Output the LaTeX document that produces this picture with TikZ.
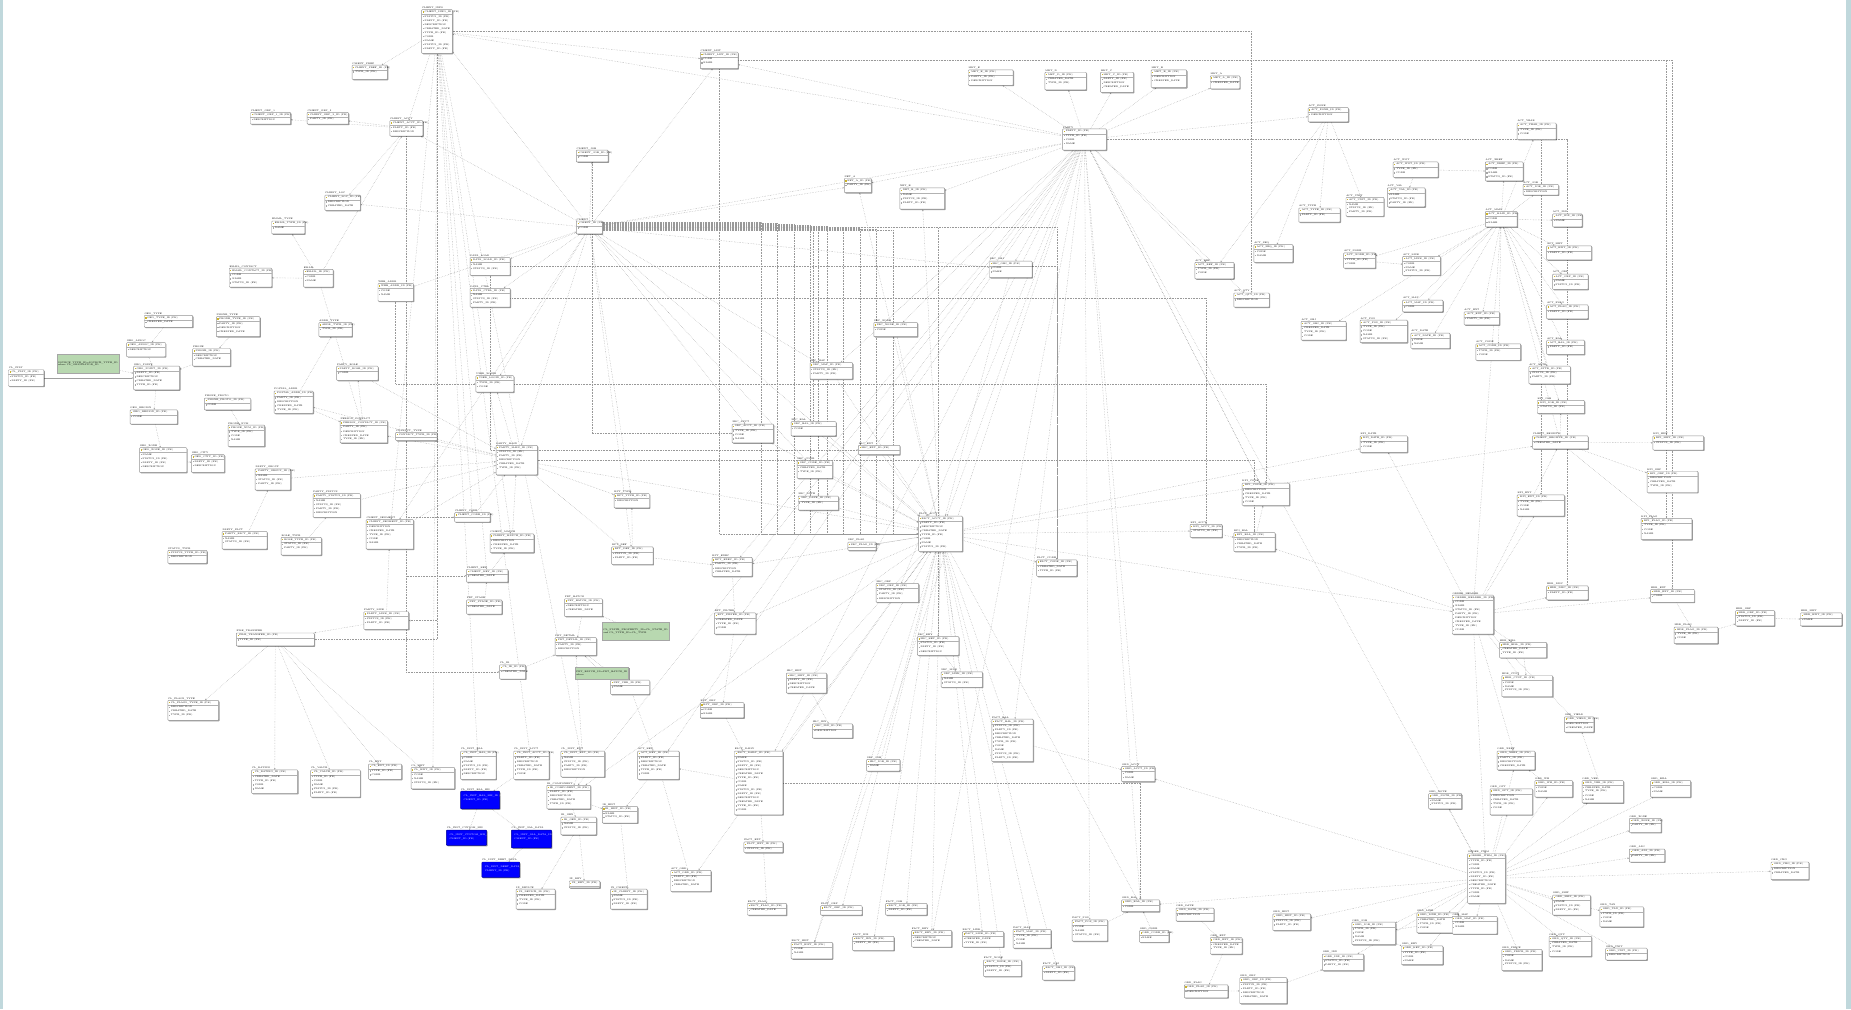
\documentclass[tikz,border=0pt]{standalone}
\usetikzlibrary{shadows,backgrounds,arrows.meta}
\definecolor{strip}{RGB}{192,216,220}
\definecolor{notegreen}{RGB}{184,216,176}
\definecolor{keyyel}{RGB}{205,180,40}
\newcommand\rowfont{\fontsize{1.9}{2.3}\selectfont}
\newcommand\fldname[1]{\ifcase#1 CODE\or NAME\or STATUS\_ID (FK)\or PARTY\_ID (FK)\or DESCRIPTION\or CREATED\_DATE\or TYPE\_ID (FK)\fi}
\tikzset{
  tbl/.style={draw=gray!85, fill=white, line width=0.4pt, rounded corners=0.6pt, anchor=north west, inner sep=0pt,
              drop shadow={shadow xshift=0.8pt, shadow yshift=-0.8pt, opacity=0.4, fill=black}},
  bluetbl/.style={tbl, fill=blue, draw=blue!60!black},
  note/.style={tbl, fill=notegreen, draw=gray!70, rounded corners=0pt, align=left, font=\rowfont, inner sep=1pt},
  hdr/.style={anchor=south west, inner sep=0.3pt, font=\rowfont},
  fld/.style={anchor=west, inner sep=0.2pt, font=\rowfont},
  fk/.style={draw=gray!80, densely dotted, line width=0.35pt, -{Stealth[length=1.4pt,width=1.2pt]}},
  rel/.style={draw=gray!75, line width=0.35pt, -{Stealth[length=1.4pt,width=1.2pt]}},
}
\begin{document}
\begin{tikzpicture}[x=1pt,y=-1pt]
  \useasboundingbox (0,0) rectangle (1568,855);

  % tables
  \foreach \n/\x/\y/\w/\h/\lbl in {
    ci/357/8/26/37/CLIENT\_INFO, cp/298/55/30/12/CLIENT\_PREF, cg/212/95/34/10/CLIENT\_GRP\_1,
    ch/260/95/35/10/CLIENT\_GRP\_2, ca/330/102/28/13/CLIENT\_ACCT, cl/275/165/30/13/CLIENT\_LOC,
    et/230/187/28/11/EMAIL\_TYPE, ec/194/227/36/16/EMAIL\_CONTACT, eml/257/228/25/15/EMAIL,
    gt/122/267/41/10/GEO\_TYPE, pty/183/268/37/17/PHONE\_TYPE, ga/107/290/33/12/GEO\_ASSOC,
    pc/163/295/32/15/PHONE, gp/113/310/39/20/GEO\_POINT, gl/7/313/30/14/CL\_STAT,
    gr/110/347/40/12/GEO\_REGION, gz/118/379/40/21/GEO\_ZONE, gc/162/385/28/15/GEO\_CITY,
    pp/173/337/39/10/PHONE\_PROTO, pn/193/360/31/18/PHONE\_NUM, pa/232/331/33/19/POSTAL\_ADDR,
    ad/270/273/28/12/ADDR\_TYPE, pr/285/310/35/12/PARTY\_ROLE, pe/288/356/40/19/PERSON\_CONTACT,
    wb/320/240/30/15/WEB\_ADDR, ct/335/366/35/7/CONTACT\_TYPE, pg/216/397/30/18/PARTY\_GROUP,
    ps/265/418/40/20/PARTY\_STATUS, pf/188/450/38/15/PARTY\_FACT, rl/238/455/34/15/ROLE\_TYPE,
    st/142/466/33/11/STATUS\_TYPE, dl/398/218/34/15/DATA\_LOAD, dc/398/244/34/16/DATA\_CTRL,
    ul/403/318/32/14/USER\_LOGIN, pm/420/377/35/25/PARTY\_MAIN, cc/385/434/30/8/CLIENT\_CODE,
    cs/310/440/40/25/CLIENT\_SEGMENT, cmt/415/452/37/16/CLIENT\_MATCH, ck/395/482/35/11/CLIENT\_KEY,
    pl/308/518/38/15/PARTY\_LINK, psg/395/508/30/12/PRT\_STAGE, ft/200/536/66/11/FILE\_TRANSFER,
    cf/142/593/43/17/CL\_FLAGS\_TYPE, cr/213/652/39/20/CL\_RATING, cv/263/652/42/23/CL\_VALUE,
    cx/312/647/28/13/CL\_EXT, cy/348/650/37/18/CL\_HIST, ib/390/636/30/24/CL\_INST\_BAL,
    ia/435/636/30/24/CL\_INST\_ACCT, ie/475/636/37/22/CL\_INST\_EXT, ir/423/563/22/12/CL\_IR,
    pb/478/507/32/15/PRT\_BATCH, pd/470/540/35/15/PRT\_DETAIL, pv/517/576/33/12/PRT\_VER,
    ic/463/665/37/20/IR\_COMPONENT, ig/475/692/30/15/IR\_GEN, ih/510/683/30/14/IR\_HIST,
    ix/437/753/33/17/IX\_DEVICE, iy/482/746/26/6/IX\_KEY, iz/517/753/31/17/IX\_CLIENT,
    ak/540/636/35/24/ACT\_KEY, ao/568/737/34/18/ACT\_ORD, rt/520/418/30/12/RPT\_TYPE,
    rd/518/463/35/15/RPT\_DEF, re/603/472/34/16/RPT\_EXEC, rf/605/519/35/18/RPT\_FILTER,
    rg/593/595/37/13/RPT\_GRP, fd/622/636/41/54/FACT\_DAILY, fe/630/713/33/9/FACT\_EXT,
    ff/633/765/33/10/FACT\_FLAG, sa/620/359/35/16/SRC\_ACCT, sb/670/357/38/12/SRC\_BAL,
    sc/675/390/30/15/SRC\_CODE, sd/676/420/34/12/SRC\_DATE, se/727/377/35/8/SRC\_EXT,
    sf/718/459/24/7/SRC\_FLAG, sg/742/494/36/16/SRC\_GRP, sh/666/570/34/17/SRC\_HIST,
    si/688/613/34/12/SRC\_IDX, sj/734/643/28/10/SRC\_JOB, sk/777/539/35/16/SRC\_KEY,
    sl/797/569/35/13/SRC\_LINK, fa/778/437/37/30/FACT\_ACCT, sm/686/307/36/14/SRC\_MAP,
    sn/740/273/37/12/SRC\_NODE, so/838/221/36/14/SRC\_OBJ, fb/840/609/35/36/FACT\_BAL,
    fc/878/474/34/14/FACT\_CODE, fg/695/767/35/8/FACT\_GRP, fh/670/798/35/14/FACT\_HIST,
    fi/722/793/35/12/FACT\_IDX, fj/750/765/35/10/FACT\_JOB, fk/772/788/34/14/FACT\_KEY,
    fl/815/789/35/13/FACT\_LINK, fm/858/787/32/16/FACT\_MAP, fn/833/813/32/14/FACT\_NODE,
    fo/883/818/27/12/FACT\_OBJ, fp/908/779/30/18/FACT\_POS, oa/950/649/28/13/ORD\_ACCT,
    ob/950/762/32/10/ORD\_BAL, oc/965/788/25/10/ORD\_CODE, od/996/769/32/11/ORD\_DATE,
    oe/1025/794/27/14/ORD\_EXT, ofl/1003/834/37/11/ORD\_FLAG, og/1050/828/40/22/ORD\_GRP,
    oh/1078/774/32/14/ORD\_HIST, oi/1120/808/35/14/ORD\_IDX, oj/1145/781/37/19/ORD\_JOB,
    ok/1187/801/35/16/ORD\_KEY, ol/1200/773/35/17/ORD\_LINE, om/1230/776/38/15/ORD\_MAP,
    or/1243/723/32/42/ORDER\_ITEM, on/1210/672/28/13/ORD\_NOTE, oo/1262/668/36/22/ORD\_OPT,
    op/1272/804/34/18/ORD\_PRICE, oq/1312/793/36/17/ORD\_QTY, os/1315/758/32/17/ORD\_SHIP,
    ot/1355/768/37/17/ORD\_TAX, ou/1360/803/35/10/ORD\_UNIT, ov/1340/661/35/19/ORD\_VER,
    ow/1300/661/32/14/ORD\_WH, ox/1268/636/32/16/ORD\_XREF, oy/1325/607/25/13/ORD\_YIELD,
    oz/1380/693/27/12/ORD\_ZONE, pa2/1380/719/30/11/ORD\_ADJ, pb2/1398/661/34/14/ORD\_BILL,
    pc2/1500/730/32/15/ORD\_CHG, oh1/1230/504/35/33/ORDER\_HEADER, hb/1270/544/40/13/HDR\_BILL,
    hc/1272/572/43/18/HDR\_CUST, hd/1310/496/35/12/HDR\_DISC, he/1398/499/37/11/HDR\_EXT,
    hf/1418/531/37/14/HDR\_FLAG, hg/1470/517/33/13/HDR\_GRP, hh/1525/519/35/11/HDR\_HIST,
    ka/1008/444/27/11/KPI\_ACCT, kb/1045/451/35/16/KPI\_BAL, kc/1052/409/40/19/KPI\_CODE,
    kd/1152/369/40/14/KPI\_DATE, ke/1285/419/40/18/KPI\_EXT, kf/1390/439/43/18/KPI\_FLAG,
    kg/1395/399/43/18/KPI\_GRP, kh/1400/369/43/12/KPI\_HIST, ki/1298/369/47/11/CLIENT\_REGISTR,
    kj/1302/339/40/11/KPI\_JOB, aa/1295/310/35/15/ACT\_ATTR, ab/1310/288/32/12/ACT\_BAL,
    ac/1250/291/38/14/ACT\_CODE, ad2/1195/282/33/13/ACT\_DATE, ae/1240/264/30/11/ACT\_EXT,
    af/1310/258/35/12/ACT\_FLAG, ag/1315/232/30/13/ACT\_GRP, ah/1310/208/38/12/ACT\_HIST,
    ai/1315/181/25/11/ACT\_IDX, aj/1290/156/30/9/ACT\_JOB, act/1258/179/27/13/ACT\_MAIN,
    al/1188/217/32/16/ACT\_LINK, am/1188/254/34/10/ACT\_MAP, an/1138/214/27/13/ACT\_NODE,
    ao2/1102/272/38/16/ACT\_OBJ, ap/1152/271/40/19/ACT\_POS, aq/1045/248/30/12/ACT\_QTY,
    ar/1012/222/33/14/ACT\_REF, asq/1062/207/33/15/ACT\_SEQ, atp/1100/176/35/12/ACT\_TYPE,
    au/1140/167/32/16/ACT\_UNIT, av/1175/159/32/16/ACT\_VAL, aw/1180/137/38/13/ACT\_WGT,
    ax/1258/137/32/16/ACT\_XREF, ay/1285/104/33/14/ACT\_YEAR, az/1108/91/34/12/ACT\_ZONE,
    ma/1025/64/25/11/MKT\_A, mb/975/59/30/15/MKT\_B, mc/932/61/28/17/MKT\_C,
    md/885/61/35/15/MKT\_D, me/820/59/38/13/MKT\_E, party/900/109/37/18/PARTY,
    na/715/151/23/12/NET\_A, nb/762/159/38/18/NET\_B, cli/593/44/32/14/CLIENT\_LIST,
    cj/488/127/27/10/CLIENT\_JOB, client/488/187/22/11/CLIENT}{
    \node[tbl, minimum width=\w pt, minimum height=\h pt, label={[hdr]north west:\lbl}] (\n) at (\x,\y) {};
    \fill[keyyel] (\x+1.2,\y+1.6) rectangle ++(0.9,1.2);
    \node[fld] at (\x+2.4,\y+2.2) {\lbl\_ID (PK)};
    \draw[gray!60, line width=0.2pt] (\x,\y+4.3) -- (\x+\w,\y+4.3);
    \pgfmathtruncatemacro\nr{floor((\h-2)/3.4)}
    \ifnum\nr>1
      \foreach \r in {2,...,\nr}{
        \pgfmathtruncatemacro\m{mod(\r+\x,7)}
        \fill[gray!70] (\x+1.2,\y+\r*3.4-1.3) rectangle ++(0.9,1.1);
        \node[fld] at (\x+2.4,\y+\r*3.4-0.8) {\fldname{\m}};
      }
    \fi
  }

  % blue tables
  \foreach \n/\x/\y/\w/\h/\lbl in {bl1/390/670/33/15/CL\_INST\_BAL\_HIS, bl2/378/703/34/13/CL\_INST\_CUSTOM\_HIS,
    bl3/433/703/34/15/CL\_INST\_SAL\_DATA, bl4/408/730/32/13/CL\_INST\_DEBT\_DATA}{
    \node[bluetbl, minimum width=\w pt, minimum height=\h pt, label={[hdr]north west:\lbl}] (\n) at (\x,\y) {};
    \node[fld, text=white] at (\x+2.4,\y+4) {\lbl\_ID (PK)};
    \node[fld, text=white] at (\x+2.4,\y+7.5) {CLIENT\_ID (FK)};
  }

  % notes
  \node[note, minimum width=51pt, minimum height=16pt] (n1) at (48,300) {SOURCE\_TYPE\_ID=SOURCE\_TYPE\_ID\\where CL\_ORIGINATOR\_ID};
  \node[note, minimum width=53pt, minimum height=15pt] (n2) at (510,527) {CL\_STATE\_PROPERTY\_ID=CL\_STATE\_ID\\and CL\_TYPE\_ID=CL\_TYPE};
  \node[note, minimum width=43pt, minimum height=10pt] (n3) at (487,565) {PRT\_BATCH\_ID=PRT\_BATCH\_ID\\where};

  \begin{pgfonlayer}{background}
    \fill[white] (0,0) rectangle (1568,855);
    \fill[strip] (0,0) rectangle (2.5,855);
    \fill[strip] (1564,0) rectangle (1568,855);

    % relations
    \foreach \a/\b in {
      party/me, party/md, party/mc, party/mb, party/ma, party/az, party/na, party/nb, party/cli, party/ci,
      party/client, party/fa, party/kc, party/so, party/sn, party/sm, party/fb, party/fd, party/ak, party/re,
      party/rf, party/sg, party/fk, party/fp, party/oa, party/ob, party/or, party/ar, party/fh, party/ic,
      client/cli, client/cj, client/ci, client/ca, client/cl, client/dl, client/dc, client/pm, client/ul,
      client/sa, client/sc, client/fa, client/rt, client/rd, client/na, client/sm, client/so, client/cs,
      ci/cp, ci/ca, ci/cli, ci/ib, ci/ia, ci/ie, ci/cc, ci/cmt, ci/ck, ci/cs, ci/cy,
      ca/cg, ca/ch, ca/cl, eml/et, eml/ec, eml/ca, eml/pe, pty/pc, pc/gp, gt/ga, ga/gp, gp/gr, gr/gz,
      gz/gc, pp/pn, pa/pe, pa/ad, pe/pr, pr/pm, wb/client, pg/pm, ps/pm, pf/pg, rl/ps, cs/pm, cc/pm,
      cmt/pm, ck/cmt, n1/gp, pm/ul, pm/pa, pm/pe, pm/ct, pm/rt, pm/rd, pm/fa, ft/cf, ft/cr, ft/cv, ft/cx,
      ft/cy, pl/ft, pl/cs, psg/ck, ia/bl1, bl1/bl2, bl1/bl3, bl3/bl4, ie/ic, ic/ig, ic/ih, ig/ix, ig/iy,
      ih/iz, ak/ih, ak/ao, ie/pd, pb/pd, pd/pv, n2/pb, n3/pd, pv/ak, rd/rt, rd/re, re/rf, rf/rg, rg/fd,
      fd/fe, fe/ff, fd/ak, ir/pd, sa/fa, sb/fa, sc/fa, sd/fa, se/fa, sf/fa, sg/fa, sk/fa, sl/fa, sh/fa,
      si/fa, sj/fa, sm/fa, sn/fa, so/fa, fa/fb, fa/fc, fa/fg, fa/fh, fa/fi, fa/fj, fa/fk, fa/fl, fa/fm,
      fa/fn, fa/fo, fa/ob, fa/oh1, fa/ka, fa/kd, fa/ki, fa/nb, fa/na, fa/re, fa/rf, fa/fd, fa/ic, fa/ao,
      oh1/hb, oh1/hc, oh1/hd, oh1/he, oh1/ki, oh1/ke, oh1/kd, oh1/kb, oh1/or, oh1/ox, oh1/act, oh1/oy,
      ki/kh, ki/kg, ki/kf, ki/kj, ki/act, act/aj, act/ai, act/ah, act/ag, act/af, act/ab, act/aa, act/ac,
      act/ae, act/ad2, act/am, act/al, act/an, act/ax, act/ay, act/ao2, act/ap, act/kj,
      az/asq, az/ar, az/atp, az/au, aw/ax, aw/av, an/al, party/aq, ka/kb, kb/kc, kc/party,
      hf/hg, hg/hh, hb/hc, he/hf, ov/oy, ow/ox, od/oe, oe/ofl, ofl/og, og/oi, oj/ok, ol/oj, oc/ob, fp/ob,
      or/oa, or/ob, or/oh, or/oi, or/oj, or/ok, or/ol, or/om, or/op, or/oq, or/os, or/ot, or/ou, or/ov,
      or/ow, or/on, or/oo, or/pc2, or/oz, or/pa2, or/pb2, or/ox, fb/oa, sh/si, sk/sl}
      \draw[fk] (\a) -- (\b);
    \draw[rel] (gl) -- (gp);

    % routed relations
    \foreach \a/\b in {client/sb, client/sk, client/fc, party/ke, cli/he, dl/fc, pm/kb, ul/kc,
      party/hd, cli/kf, client/sd, ci/aq, dc/ka, fd/ob}
      \draw[fk] (\a) -| (\b);
    \foreach \a/\b in {ci/ft, ci/pl, ca/cc, ca/ck, cli/fa, cj/sa, dl/se, ca/ir, wb/ul}
      \draw[fk] (\a) |- (\b);
    \foreach \k in {1,...,9}
      \draw[fk] ([yshift=-\k*0.9pt]client.north east) -- ++(\k*14+120pt,0) |- (fa.west);
  \end{pgfonlayer}
\end{tikzpicture}
\end{document}
